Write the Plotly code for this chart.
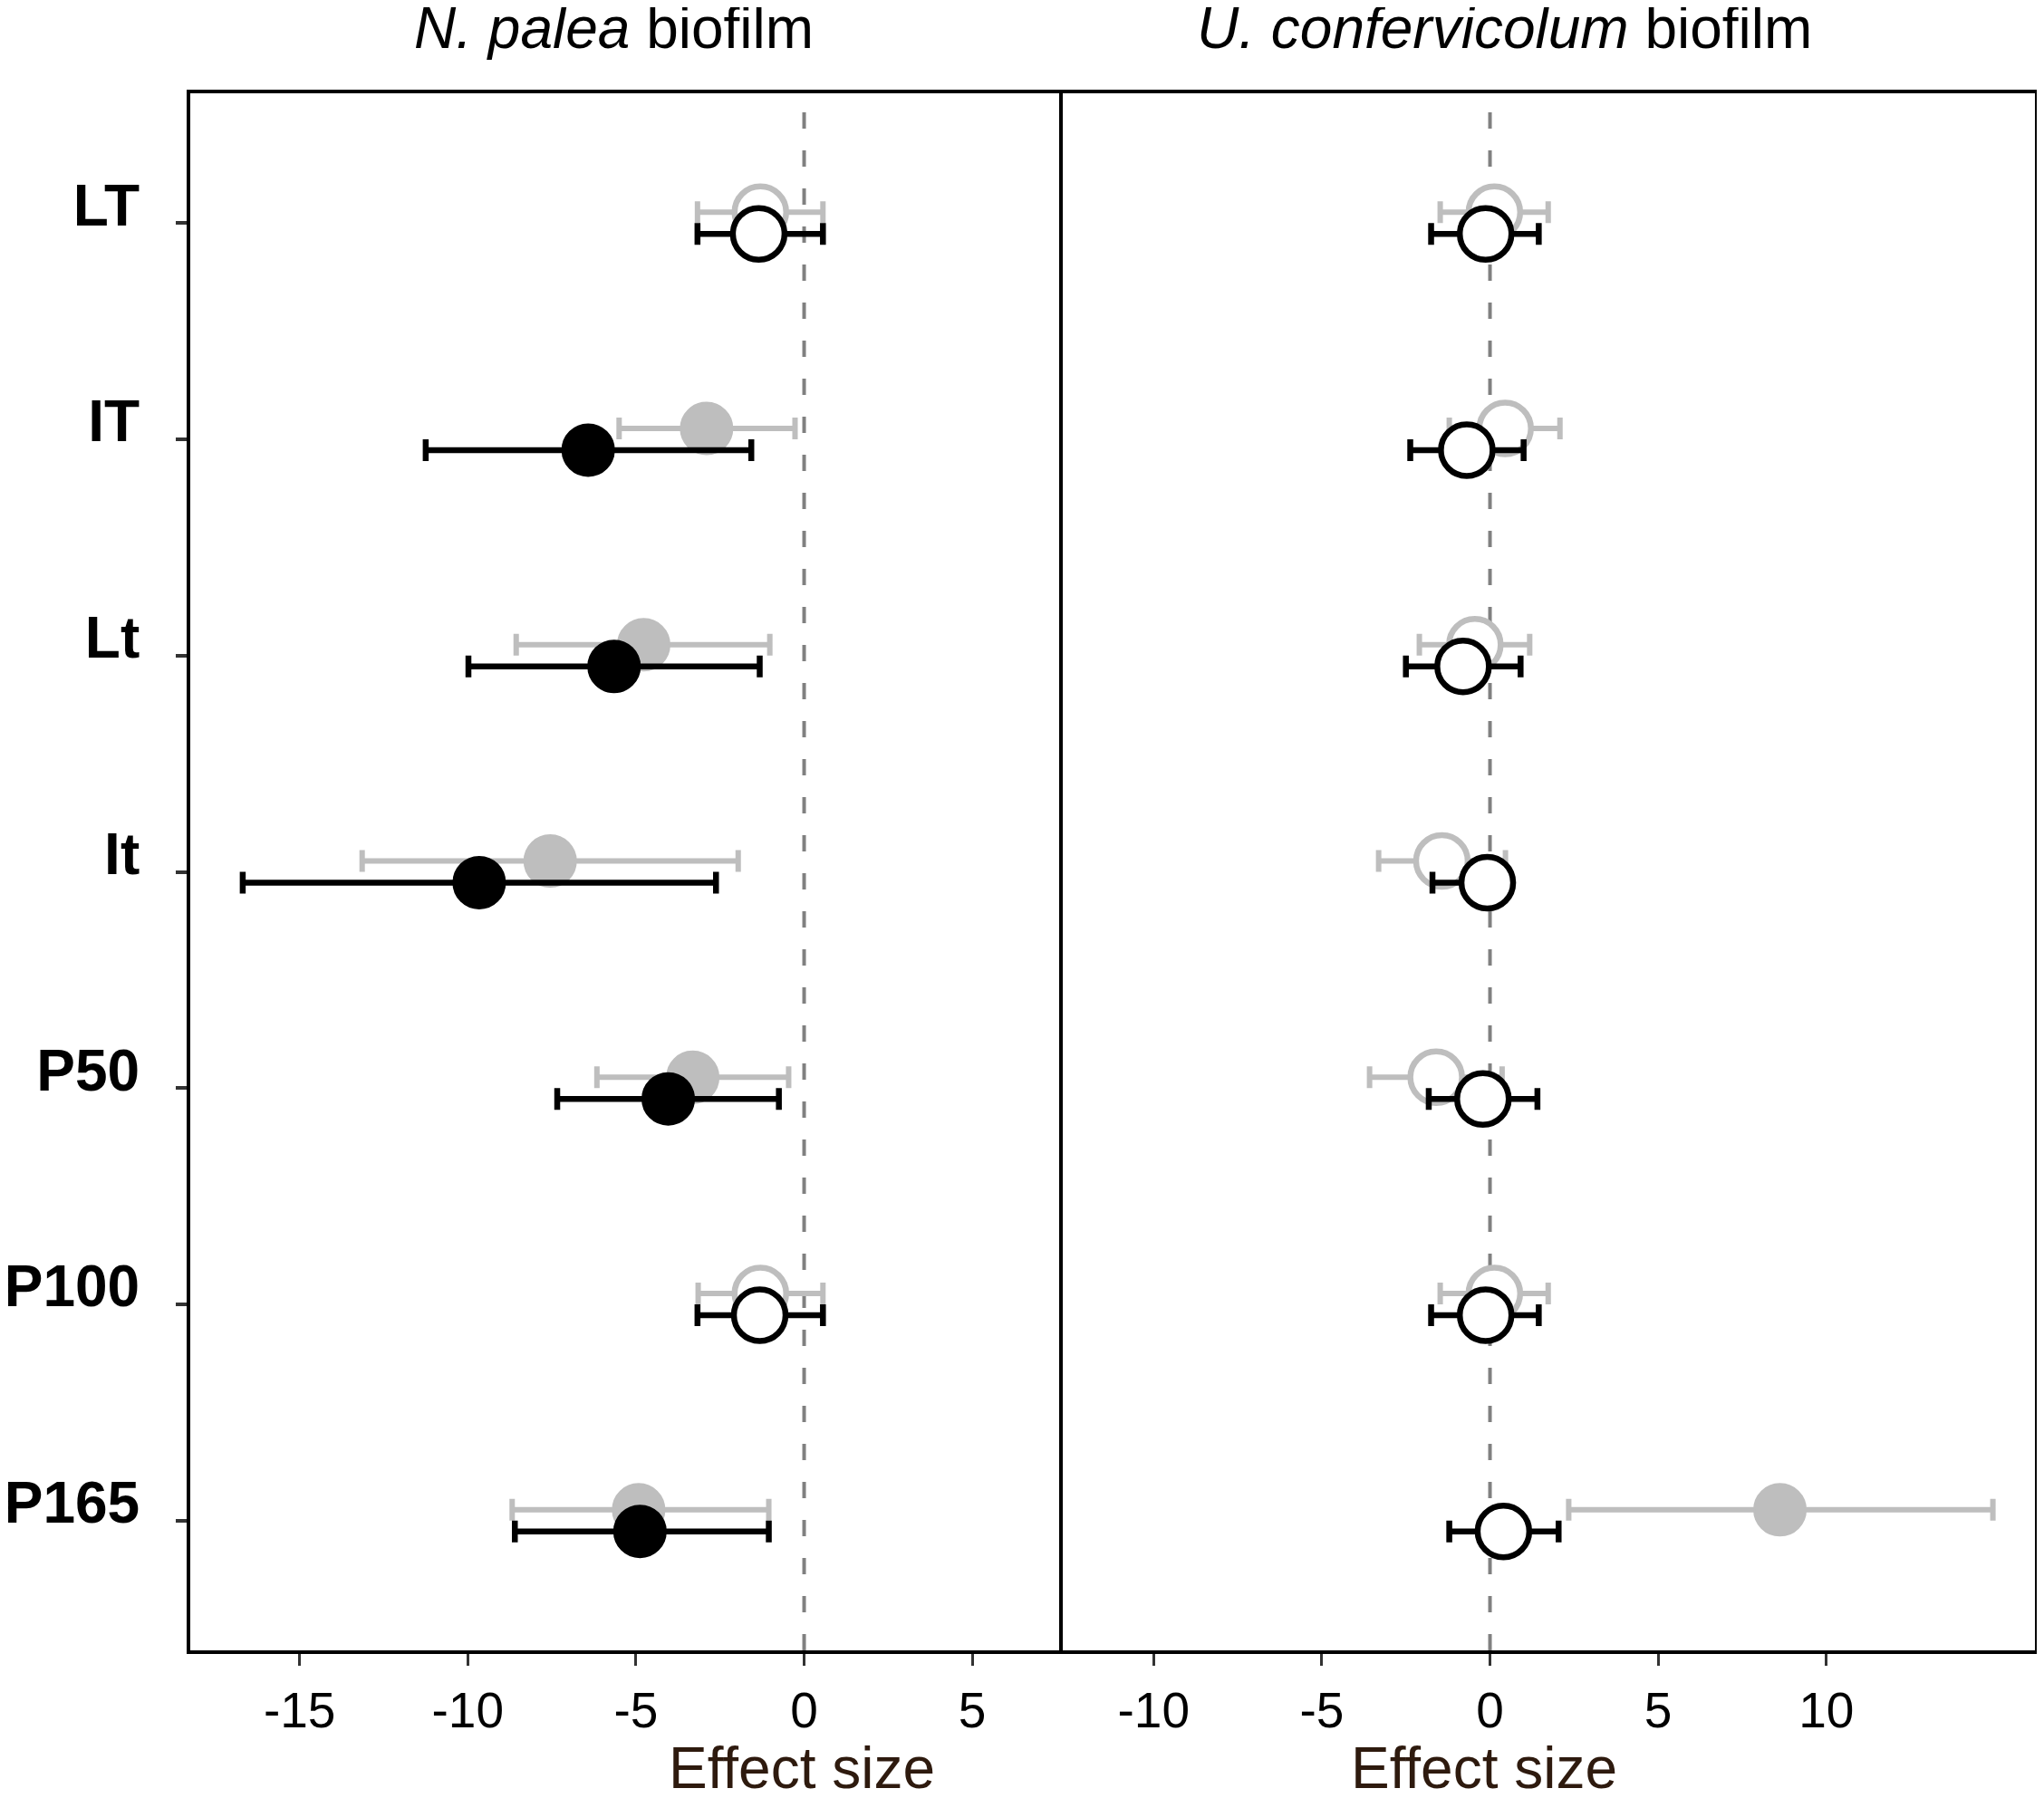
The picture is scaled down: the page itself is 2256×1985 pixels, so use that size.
import plotly.graph_objects as go

# treatments, top to bottom
categories = ["LT", "IT", "Lt", "It", "P50", "P100", "P165"]

# N. palea biofilm, grey series
np_grey_mean = [-1.30, -2.90, -4.77, -7.55, -3.31, -1.30, -4.92]
np_grey_low = [-3.17, -5.50, -8.56, -13.14, -6.16, -3.15, -8.68]
np_grey_high = [0.56, -0.27, -1.02, -1.96, -0.46, 0.56, -1.05]
np_grey_filled = [False, True, True, True, True, False, True]

# N. palea biofilm, black series
np_black_mean = [-1.35, -6.42, -5.65, -9.66, -4.04, -1.32, -4.88]
np_black_low = [-3.17, -11.25, -9.98, -16.69, -7.34, -3.17, -8.60]
np_black_high = [0.56, -1.57, -1.32, -2.62, -0.75, 0.56, -1.05]
np_black_filled = [False, True, True, True, True, False, True]

# U. confervicolum biofilm, grey series
uc_grey_mean = [0.13, 0.45, -0.45, -1.43, -1.60, 0.13, 8.62]
uc_grey_low = [-1.48, -1.21, -2.10, -3.31, -3.58, -1.48, 2.34]
uc_grey_high = [1.73, 2.08, 1.18, 0.46, 0.36, 1.73, 14.95]
uc_grey_filled = [False, False, False, False, False, False, True]

# U. confervicolum biofilm, black series
uc_black_mean = [-0.13, -0.69, -0.80, -0.08, -0.21, -0.13, 0.40]
uc_black_low = [-1.75, -2.37, -2.50, -1.71, -1.82, -1.75, -1.21]
uc_black_high = [1.45, 1.00, 0.91, 0.45, 1.41, 1.45, 2.04]
uc_black_filled = [False, False, False, False, False, False, False]

left_ticks = [-15, -10, -5, 0, 5]
right_ticks = [-10, -5, 0, 5, 10]

GREY = "#bebebe"
BLACK = "#000000"
FONT = "Liberation Sans"

# figure is 16px smaller than the window so the page body margin fits
W, H = 2240, 1969
ML, MR, MT, MB = 202, 2, 95, 155
PW = W - ML - MR


def add_series(fig, mean, low, high, filled, color, offset, xaxis, yaxis, bar_w):
    ys = [i + offset for i in range(len(mean))]
    fills = [color if f else "white" for f in filled]
    line_w = [2 if f else 6.5 for f in filled]
    fig.add_trace(go.Scatter(
        x=mean, y=ys, mode="markers", xaxis=xaxis, yaxis=yaxis,
        marker=dict(symbol="circle", size=57, color=fills,
                    line=dict(color=color, width=line_w)),
        error_x=dict(type="data", symmetric=False,
                     array=[h - m for h, m in zip(high, mean)],
                     arrayminus=[m - l for m, l in zip(mean, low)],
                     color=color, thickness=bar_w, width=12),
        showlegend=False, hoverinfo="x+y",
    ))


fig = go.Figure()
add_series(fig, np_grey_mean, np_grey_low, np_grey_high, np_grey_filled, GREY, -0.05, "x", "y", 6)
add_series(fig, np_black_mean, np_black_low, np_black_high, np_black_filled, BLACK, 0.05, "x", "y", 6.5)
add_series(fig, uc_grey_mean, uc_grey_low, uc_grey_high, uc_grey_filled, GREY, -0.05, "x2", "y2", 6)
add_series(fig, uc_black_mean, uc_black_low, uc_black_high, uc_black_filled, BLACK, 0.05, "x2", "y2", 6.5)

# dashed zero lines
for xr, yr in [("x", "y domain"), ("x2", "y2 domain")]:
    fig.add_shape(type="line", xref=xr, yref=yr, x0=0, x1=0, y0=0, y1=1,
                  line=dict(color="#808080", width=4, dash="18px,24px"), layer="below")

split = 963 / PW
axis_common = dict(showgrid=False, zeroline=False, showline=True, mirror=True,
                   linecolor="black", linewidth=4, ticks="outside", ticklen=13,
                   tickwidth=3, tickcolor="#333333", tickmode="array",
                   tickfont=dict(family=FONT, size=55, color="black"),
                   ticklabelstandoff=2, automargin=False)

fig.update_layout(
    width=W, height=H,
    margin=dict(l=ML, r=MR, t=MT, b=MB),
    paper_bgcolor="white", plot_bgcolor="white",
    xaxis=dict(domain=[0, split], range=[-18.25, 7.69], anchor="y",
               tickvals=left_ticks, ticktext=[str(v) for v in left_ticks], **axis_common),
    xaxis2=dict(domain=[split, 1], range=[-12.7, 16.2], anchor="y2",
                tickvals=right_ticks, ticktext=[str(v) for v in right_ticks], **axis_common),
    yaxis=dict(domain=[0, 1], range=[6.6, -0.6], anchor="x", showgrid=False, zeroline=False,
               showline=True, mirror=False, linecolor="black", linewidth=4,
               ticks="outside", ticklen=12, tickwidth=4, tickcolor="#333333",
               tickmode="array", tickvals=list(range(len(categories))), ticktext=categories,
               tickfont=dict(family=FONT, size=64, color="black", weight="bold"),
               ticklabelstandoff=27, ticklabelshift=20, automargin=False),
    yaxis2=dict(domain=[0, 1], range=[6.6, -0.6], anchor="x2", matches="y",
                showgrid=False, zeroline=False, showline=True, mirror=True,
                linecolor="black", linewidth=4, showticklabels=False, ticks="",
                automargin=False),
)

ann = [
    dict(text="<i>N. palea</i> biofilm", x=(669 - ML) / PW, y=1, yshift=72,
         font=dict(family=FONT, size=64, color="black")),
    dict(text="<i>U. confervicolum</i> biofilm", x=(1652 - ML) / PW, y=1, yshift=72,
         font=dict(family=FONT, size=64, color="black")),
    dict(text="Effect size", x=(877 - ML) / PW, y=0, yshift=-130,
         font=dict(family=FONT, size=64, color="#2e1a0e")),
    dict(text="Effect size", x=(1630 - ML) / PW, y=0, yshift=-130,
         font=dict(family=FONT, size=64, color="#2e1a0e")),
]
for a in ann:
    fig.add_annotation(xref="paper", yref="paper", showarrow=False,
                       xanchor="center", yanchor="middle", **a)

fig.write_html("out.html")
